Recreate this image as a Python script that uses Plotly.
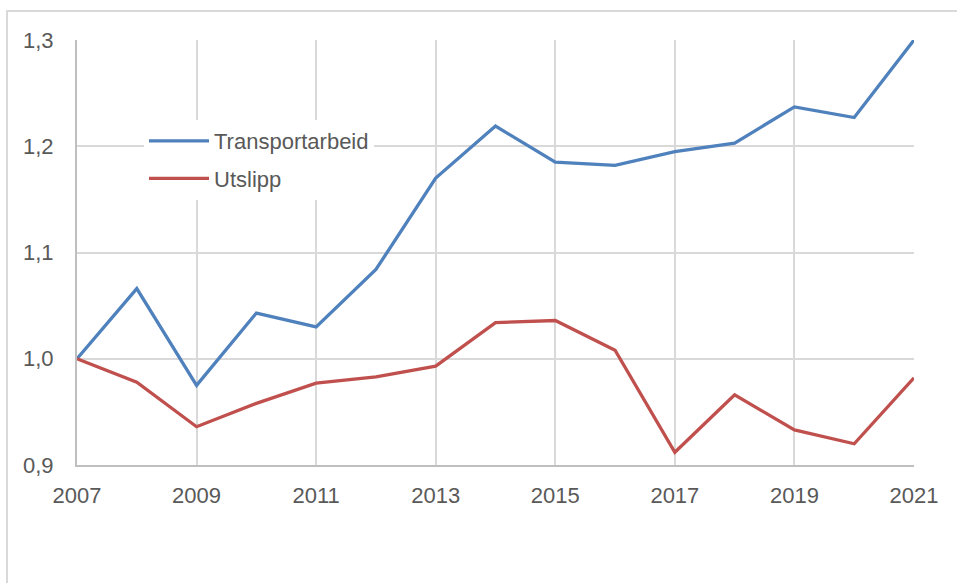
import plotly.graph_objects as go

years = list(range(2007, 2022))
transportarbeid = [1.000, 1.066, 0.975, 1.043, 1.030, 1.084, 1.170, 1.219,
                   1.185, 1.182, 1.195, 1.203, 1.237, 1.227, 1.300]
utslipp = [1.000, 0.978, 0.936, 0.958, 0.977, 0.983, 0.993, 1.034,
           1.036, 1.008, 0.912, 0.966, 0.933, 0.920, 0.982]
y_ticks = [0.9, 1.0, 1.1, 1.2, 1.3]
y_ticktext = ["0,9", "1,0", "1,1", "1,2", "1,3"]

FONT = "Liberation Sans"
GRID = "#d9d9d9"
AXIS = "#bfbfbf"
TXT = "#595959"

fig = go.Figure()
fig.add_trace(go.Scatter(x=years, y=transportarbeid, mode="lines", name="Transportarbeid",
                         legendgroup="a", line=dict(color="#4F81BD", width=3.3)))
fig.add_trace(go.Scatter(x=years, y=utslipp, mode="lines", name="Utslipp",
                         legendgroup="b", line=dict(color="#C0504D", width=3.3)))

W, H = 957, 583
L, T = 77, 40
R = W - 914
B = H - 465
pw, ph = W - L - R, H - T - B

def px2x(px):
    return (px - L) / pw

def py2y(py):
    return (H - B - py) / ph

fig.add_shape(type="rect", xref="paper", yref="paper",
              x0=px2x(7), x1=1.3, y0=-0.6, y1=py2y(11),
              line=dict(color=GRID, width=2), fillcolor="rgba(0,0,0,0)", layer="below")

fig.update_layout(
    width=W, height=H,
    margin=dict(l=L, r=R, t=T, b=B, autoexpand=False),
    paper_bgcolor="white", plot_bgcolor="white",
    font=dict(family=FONT, size=22, color=TXT),
    showlegend=True,
    legend=dict(x=px2x(144), y=py2y(120), xanchor="left", yanchor="top",
                bgcolor="white", font=dict(family=FONT, size=22, color=TXT),
                itemwidth=60, tracegroupgap=6),
    xaxis=dict(range=[2007, 2021], tick0=2007, dtick=2, showgrid=True, gridcolor=GRID, gridwidth=2,
               showline=True, linecolor=AXIS, linewidth=2, ticks="outside", ticklen=10,
               tickcolor="rgba(0,0,0,0)", zeroline=False,
               tickfont=dict(family=FONT, size=22, color=TXT)),
    yaxis=dict(range=[0.9, 1.3], tickvals=y_ticks, ticktext=y_ticktext, showgrid=True,
               gridcolor=GRID, gridwidth=2, showline=True, linecolor=AXIS, linewidth=2,
               ticks="outside", ticklen=17, tickcolor="rgba(0,0,0,0)", zeroline=False,
               tickfont=dict(family=FONT, size=22, color=TXT)),
)

fig.write_html("out.html", config={"displayModeBar": False},
               post_script="document.body.style.margin='0';document.body.style.overflow='hidden';")
